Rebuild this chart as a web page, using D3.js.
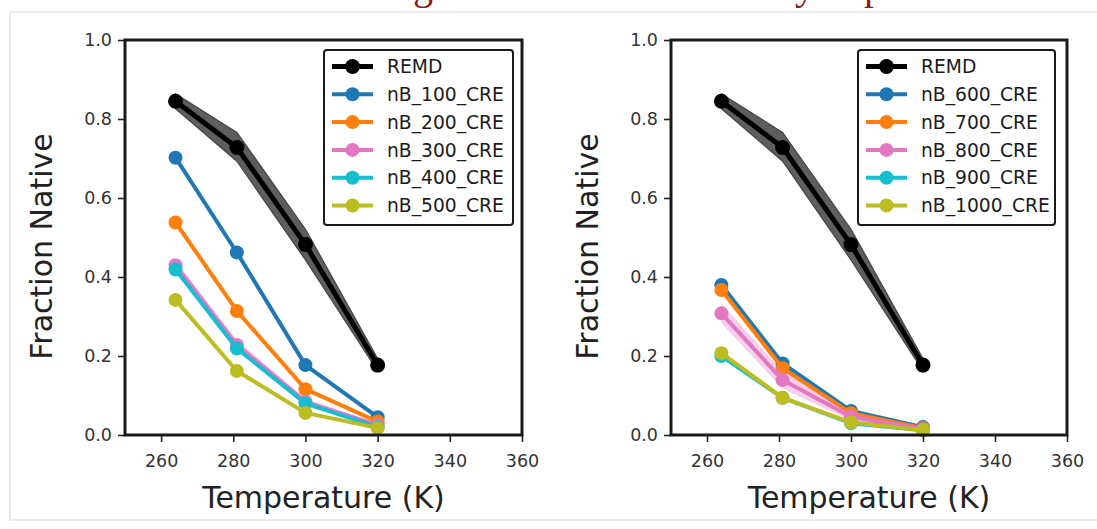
<!DOCTYPE html>
<html>
<head>
<meta charset="utf-8">
<script src="https://cdn.jsdelivr.net/npm/d3@7"></script>
<style>
  html, body { margin: 0; padding: 0; background: #fff; }
  svg { display: block; }
  text { font-family: "DejaVu Sans", sans-serif; }
</style>
</head>
<body>
<svg id="chart" width="1097" height="529"></svg>
<script>
// Temperatures (K) at which fraction native was computed
const temperatures = [264, 281, 300, 320];

// REMD reference: mean with shaded spread
const remdMean = [0.845, 0.728, 0.482, 0.177];
const remdLow  = [0.826, 0.693, 0.443, 0.162];
const remdHigh = [0.864, 0.766, 0.521, 0.193];

// Left panel series
const leftNames = ["nB_100_CRE", "nB_200_CRE", "nB_300_CRE", "nB_400_CRE", "nB_500_CRE"];
const nB100 = [0.702, 0.462, 0.177, 0.045];
const nB200 = [0.538, 0.314, 0.116, 0.034];
const nB300 = [0.430, 0.228, 0.084, 0.025];
const nB400 = [0.419, 0.219, 0.080, 0.020];
const nB500 = [0.342, 0.162, 0.056, 0.018];
const leftSd = [
  [0.004, 0.004, 0.003, 0.002],
  [0.008, 0.008, 0.005, 0.003],
  [0.012, 0.012, 0.008, 0.004],
  [0.004, 0.004, 0.003, 0.002],
  [0.004, 0.004, 0.003, 0.002]
];

// Right panel series
const rightNames = ["nB_600_CRE", "nB_700_CRE", "nB_800_CRE", "nB_900_CRE", "nB_1000_CRE"];
const nB600  = [0.380, 0.181, 0.061, 0.020];
const nB700  = [0.367, 0.169, 0.055, 0.017];
const nB800  = [0.308, 0.139, 0.046, 0.014];
const nB900  = [0.200, 0.094, 0.030, 0.012];
const nB1000 = [0.207, 0.094, 0.032, 0.012];
const rightSd = [
  [0.006, 0.006, 0.004, 0.002],
  [0.006, 0.006, 0.004, 0.002],
  [0.025, 0.022, 0.010, 0.005],
  [0.005, 0.005, 0.003, 0.002],
  [0.005, 0.005, 0.003, 0.002]
];

// Axis ticks
const xTicks = [260, 280, 300, 320, 340, 360];
const yTicks = [0.0, 0.2, 0.4, 0.6, 0.8, 1.0];

const seriesColors = ["#1f77b4", "#ff7f0e", "#e377c2", "#17becf", "#bcbd22"];

const svg = d3.select("#chart");

// Header remnant: light rule and the descenders of the slide title above it
svg.append("rect")
  .attr("x", 10).attr("y", 12).attr("width", 1100).attr("height", 508)
  .attr("fill", "none").attr("stroke", "#e6e6e6").attr("stroke-width", 1.5);
const title = svg.append("text")
  .attr("y", -1)
  .attr("font-size", 40)
  .attr("fill", "#8a1c1c")
  .style("font-family", "'Liberation Serif', serif");
title.append("tspan").attr("x", 413).text("g");
title.append("tspan").attr("x", 795).text("y");
title.append("tspan").attr("x", 864).text("p");

function drawPanel(left, right, names, values, sds, legend) {
  const top = 40, bottom = 435;
  const x = d3.scaleLinear().domain([250, 360]).range([left, right]);
  const y = d3.scaleLinear().domain([0, 1]).range([bottom, top]);
  const g = svg.append("g");

  const line = d3.line().x((d, i) => x(temperatures[i])).y(d => y(d));
  const band = d3.area()
    .x(d => x(d.t)).y0(d => y(d.lo)).y1(d => y(d.hi));

  // REMD band + line
  g.append("path")
    .datum(temperatures.map((t, i) => ({ t, lo: remdLow[i], hi: remdHigh[i] })))
    .attr("d", band)
    .attr("fill", "#5e5e5e").attr("stroke", "#444").attr("stroke-width", 1.2);
  g.append("path").datum(remdMean).attr("d", line)
    .attr("fill", "none").attr("stroke", "#000").attr("stroke-width", 5)
    .attr("stroke-linejoin", "round");
  g.selectAll(null).data(remdMean).enter().append("circle")
    .attr("cx", (d, i) => x(temperatures[i])).attr("cy", d => y(d))
    .attr("r", 7.5).attr("fill", "#000");

  // CRE series
  values.forEach((vals, k) => {
    const c = seriesColors[k];
    g.append("path")
      .datum(temperatures.map((t, i) => ({ t, lo: vals[i] - sds[k][i], hi: vals[i] + sds[k][i] })))
      .attr("d", band).attr("fill", c).attr("fill-opacity", 0.35);
    g.append("path").datum(vals).attr("d", line)
      .attr("fill", "none").attr("stroke", c).attr("stroke-width", 4)
      .attr("stroke-linejoin", "round");
    g.selectAll(null).data(vals).enter().append("circle")
      .attr("cx", (d, i) => x(temperatures[i])).attr("cy", d => y(d))
      .attr("r", 7).attr("fill", c);
  });

  // Axes
  const xAxis = d3.axisBottom(x).tickValues(xTicks).tickSize(7).tickPadding(6)
    .tickFormat(d3.format("d"));
  const yAxis = d3.axisLeft(y).tickValues(yTicks).tickSize(7).tickPadding(6)
    .tickFormat(d3.format(".1f"));
  const gx = g.append("g").attr("transform", `translate(0,${bottom})`).call(xAxis);
  const gy = g.append("g").attr("transform", `translate(${left},0)`).call(yAxis);
  [gx, gy].forEach(a => {
    a.select(".domain").remove();
    a.selectAll(".tick line").attr("stroke", "#222").attr("stroke-width", 1.6);
    a.selectAll(".tick text").attr("fill", "#333").attr("font-size", 17.5)
      .attr("font-family", "DejaVu Sans, sans-serif");
  });
  gx.selectAll(".tick text").attr("dy", "1.1em");

  // Frame
  g.append("rect")
    .attr("x", left).attr("y", top).attr("width", right - left).attr("height", bottom - top)
    .attr("fill", "none").attr("stroke", "#1a1a1a").attr("stroke-width", 3);

  // Axis titles
  g.append("text")
    .attr("x", (left + right) / 2).attr("y", 508)
    .attr("text-anchor", "middle").attr("font-size", 30).attr("fill", "#222")
    .text("Temperature (K)");
  g.append("text")
    .attr("transform", `translate(${left - 73},${(top + bottom) / 2 + 9}) rotate(-90)`)
    .attr("text-anchor", "middle").attr("font-size", 30).attr("fill", "#222")
    .text("Fraction Native");

  // Legend
  const lg = g.append("g");
  lg.append("rect")
    .attr("x", legend.x).attr("y", 50).attr("width", legend.w).attr("height", 175)
    .attr("rx", 3).attr("fill", "#fff").attr("stroke", "#1a1a1a").attr("stroke-width", 2);
  const entries = [{ name: "REMD", color: "#000", lw: 5, r: 7.5 }]
    .concat(names.map((n, k) => ({ name: n, color: seriesColors[k], lw: 4, r: 7 })));
  entries.forEach((e, i) => {
    const yy = 66.5 + i * 27.8;
    lg.append("line")
      .attr("x1", legend.x + 8).attr("x2", legend.x + 49)
      .attr("y1", yy).attr("y2", yy)
      .attr("stroke", e.color).attr("stroke-width", e.lw);
    lg.append("circle").attr("cx", legend.x + 28.5).attr("cy", yy).attr("r", e.r)
      .attr("fill", e.color);
    lg.append("text")
      .attr("x", legend.x + 63).attr("y", yy + 6.7)
      .attr("font-size", 18.7).attr("fill", "#1a1a1a")
      .text(e.name);
  });
}

drawPanel(125, 522, leftNames, [nB100, nB200, nB300, nB400, nB500], leftSd, { x: 324, w: 189 });
drawPanel(671, 1067, rightNames, [nB600, nB700, nB800, nB900, nB1000], rightSd, { x: 858, w: 197 });
</script>
</body>
</html>
